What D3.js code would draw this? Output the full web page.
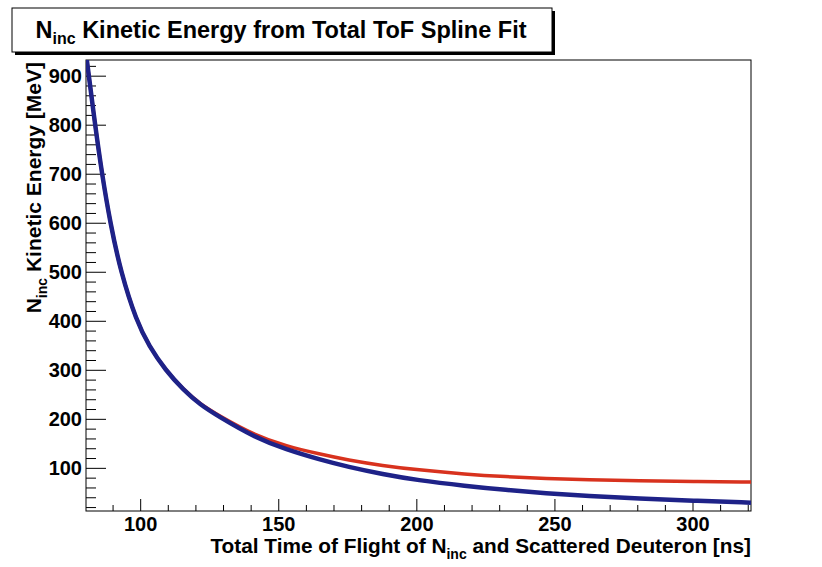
<!DOCTYPE html>
<html><head><meta charset="utf-8">
<script src="https://cdn.jsdelivr.net/npm/d3@7"></script>
<style>
body{margin:0;background:#fff;}
text{font-family:"Liberation Sans",Arial,Helvetica,sans-serif;font-weight:bold;fill:#000;}
</style></head>
<body><svg id="c" width="822" height="567"></svg>
<script>
// Data
const tofNs   = [80.5, 83.5, 86, 89, 92.8, 98.5, 103, 109, 115.5, 121.5, 128.5, 140.7, 152.8, 164.9, 175, 187.7, 200, 217.8, 232, 246.8, 262, 280.5, 300, 321];
const blueE   = [933, 800, 700, 600, 500, 400, 350, 300, 260, 230, 205, 165, 138, 118, 103, 88, 76, 64, 56, 49, 43.5, 38, 34, 30];
const redE    = [933, 800, 700, 600, 500, 400, 350, 300, 260.5, 231, 207, 169, 145, 129, 117, 105.5, 97, 88, 83, 79, 76.5, 74.5, 73, 72];
const xTicks  = [100, 150, 200, 250, 300];
const yTicks  = [100, 200, 300, 400, 500, 600, 700, 800, 900];

const svg = d3.select("#c");
const L = 86, R = 751, T = 60, B = 511;
const x = d3.scaleLinear().domain([80.2, 321]).range([L, R]);
const y = d3.scaleLinear().domain([13, 933]).range([B, T]);

// title box with shadow
svg.append("rect").attr("x",15).attr("y",11).attr("width",540).attr("height",44).attr("fill","#000");
svg.append("rect").attr("x",12).attr("y",8).attr("width",540).attr("height",44).attr("fill","#fff").attr("stroke","#000").attr("stroke-width",1);
const title = svg.append("text").attr("x",281).attr("y",38).attr("text-anchor","middle").style("font-size","23.5px");
title.append("tspan").text("N");
title.append("tspan").attr("dy",6).style("font-size","16px").text("inc");
title.append("tspan").attr("dy",-6).text(" Kinetic Energy from Total ToF Spline Fit");

// frame
svg.append("rect").attr("x",L).attr("y",T).attr("width",R-L).attr("height",B-T).attr("fill","none").attr("stroke","#000").attr("stroke-width",1);

// y ticks
const yMinor = d3.range(20, 933, 20);
svg.append("g").selectAll("line").data(yMinor).join("line")
  .attr("x1",L).attr("x2",d=> d%100===0 ? L+20 : L+10)
  .attr("y1",d=>y(d)).attr("y2",d=>y(d)).attr("stroke","#000").attr("stroke-width",1);
svg.append("g").selectAll("text").data(yTicks).join("text")
  .attr("x",L-4).attr("y",d=>y(d)+7).attr("text-anchor","end").style("font-size","20px").text(d=>d);

// x ticks
const xMinor = d3.range(90, 322, 10);
svg.append("g").selectAll("line").data(xMinor).join("line")
  .attr("x1",d=>x(d)).attr("x2",d=>x(d))
  .attr("y1",B).attr("y2",d=> d%50===0 ? B-12 : B-6).attr("stroke","#000").attr("stroke-width",1);
svg.append("g").selectAll("text").data(xTicks).join("text")
  .attr("x",d=>x(d)).attr("y",531).attr("text-anchor","middle").style("font-size","20px").text(d=>d);

// axis titles
const xl = svg.append("text").attr("x",R).attr("y",553).attr("text-anchor","end").style("font-size","20.8px");
xl.append("tspan").text("Total Time of Flight of N");
xl.append("tspan").attr("dy",6).style("font-size","14px").text("inc");
xl.append("tspan").attr("dy",-6).text(" and Scattered Deuteron [ns]");

const yl = svg.append("text").attr("transform","translate(41,62) rotate(-90)").attr("text-anchor","end").style("font-size","21px");
yl.append("tspan").text("N");
yl.append("tspan").attr("dy",6).style("font-size","14px").text("inc");
yl.append("tspan").attr("dy",-6).text(" Kinetic Energy [MeV]");

// curves
svg.append("clipPath").attr("id","pc").append("rect").attr("x",L).attr("y",T).attr("width",R-L).attr("height",B-T);
const line = d3.line().curve(d3.curveBasis);
svg.append("path").attr("clip-path","url(#pc)")
  .attr("d", line(tofNs.map((t,i)=>[x(t), y(redE[i])])))
  .attr("fill","none").attr("stroke","#d8321e").attr("stroke-width",3.5);
svg.append("path").attr("clip-path","url(#pc)")
  .attr("d", line(tofNs.map((t,i)=>[x(t), y(blueE[i])])))
  .attr("fill","none").attr("stroke","#1e2288").attr("stroke-width",4.5);
</script></body></html>
